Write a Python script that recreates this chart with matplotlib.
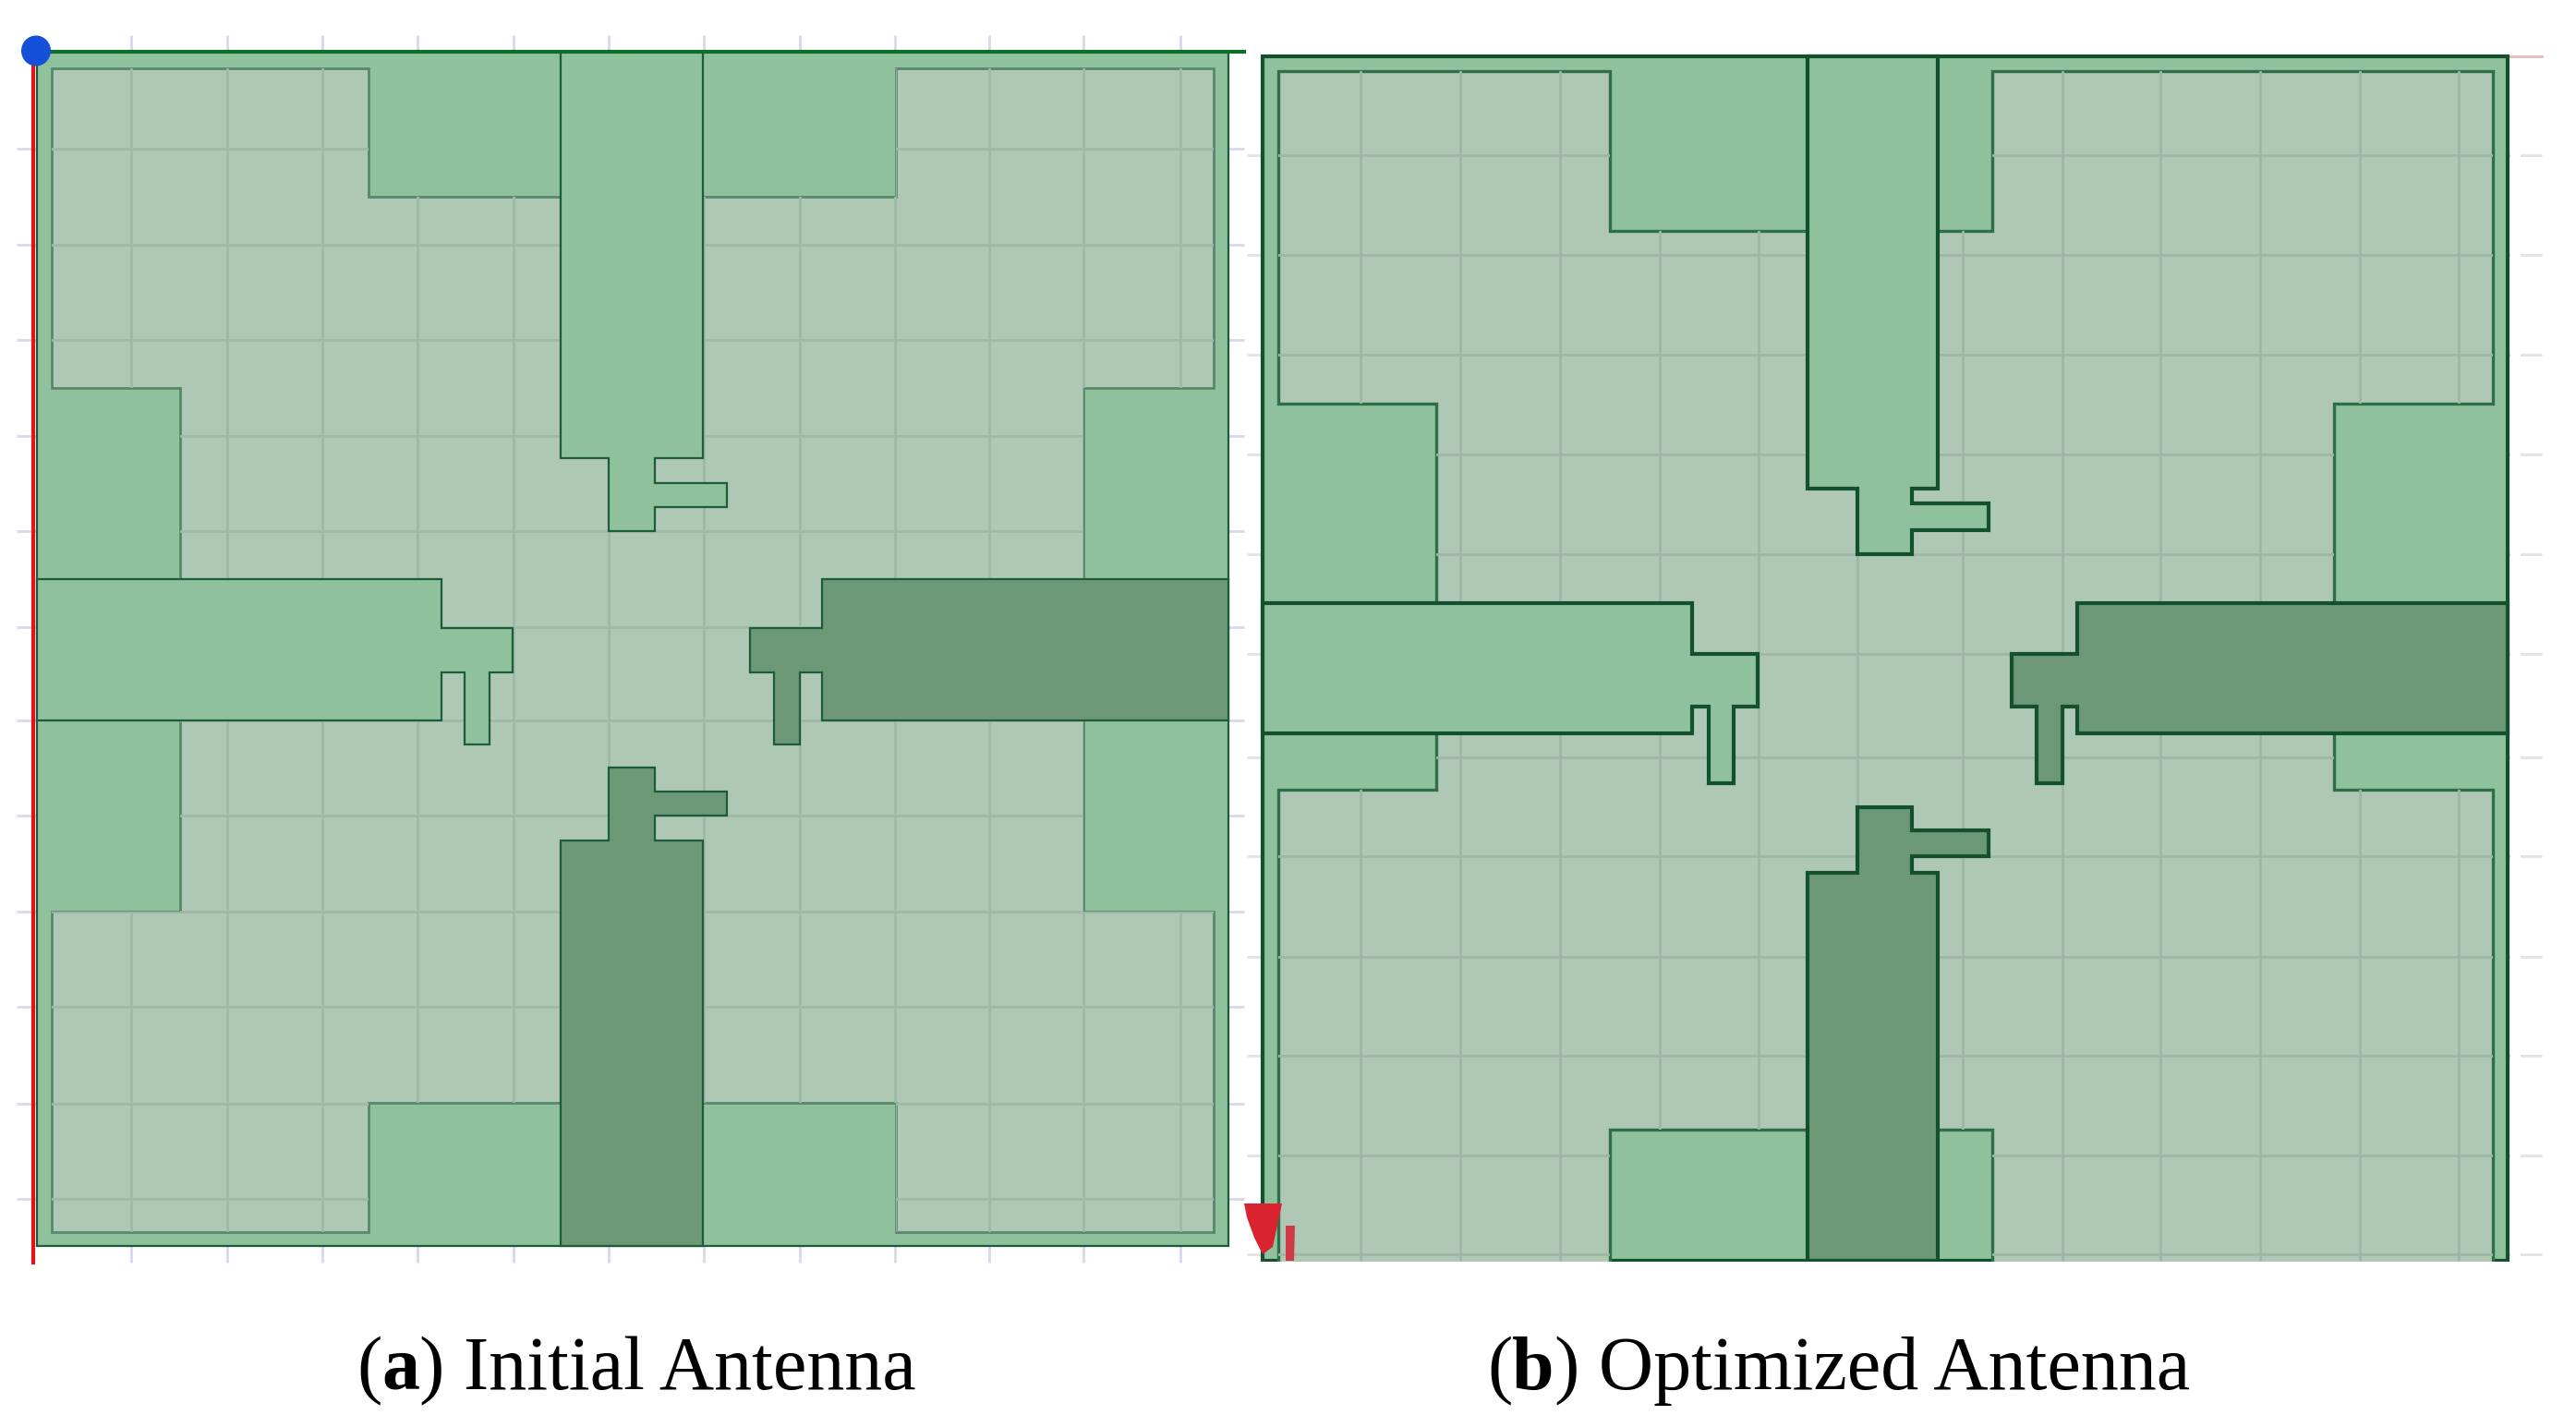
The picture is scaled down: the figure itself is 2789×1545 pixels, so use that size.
import matplotlib
matplotlib.use('Agg')
import matplotlib.pyplot as plt
from matplotlib.patches import Polygon, Rectangle, Ellipse

# geometry, in image pixels
# ---- panel a
a_outer = [(40, 56), (1330, 56), (1330, 1349), (40, 1349)]
a_light = [(56, 74), (399, 74), (399, 213), (970, 213), (970, 74), (1314, 74), (1314, 420),
           (1173, 420), (1173, 987), (1314, 987), (1314, 1334), (970, 1334), (970, 1194),
           (399, 1194), (399, 1334), (56, 1334), (56, 987), (195, 987), (195, 420), (56, 420)]
a_feed_top = [(607, 56), (761, 56), (761, 496), (709, 496), (709, 523), (787, 523), (787, 549),
              (709, 549), (709, 575), (659, 575), (659, 496), (607, 496)]
a_feed_bottom = [(607, 1349), (761, 1349), (761, 910), (709, 910), (709, 883), (787, 883),
                 (787, 857), (709, 857), (709, 831), (659, 831), (659, 910), (607, 910)]
a_feed_left = [(40, 627), (478, 627), (478, 680), (555, 680), (555, 728), (530, 728), (530, 806),
               (503, 806), (503, 728), (478, 728), (478, 780), (40, 780)]
a_feed_right = [(1330, 627), (890, 627), (890, 680), (812, 680), (812, 728), (838, 728), (838, 806),
                (866, 806), (866, 728), (890, 728), (890, 780), (1330, 780)]
a_grid_x = [142, 246, 349, 452, 556, 659, 762, 866, 969, 1071, 1173, 1278]
a_grid_y = [161, 265, 368, 472, 575, 679, 780, 883, 987, 1090, 1195, 1298]

# ---- panel b
b_outer = [(1367, 61), (2715, 61), (2715, 1365), (1367, 1365)]
b_light = [(1384, 77), (1743, 77), (1743, 250), (2157, 250), (2157, 77), (2699, 77), (2699, 437),
           (2527, 437), (2527, 855), (2699, 855), (2699, 1385), (2157, 1385), (2157, 1223),
           (1743, 1223), (1743, 1385), (1384, 1385), (1384, 855), (1555, 855), (1555, 437), (1384, 437)]
b_feed_top = [(1957, 61), (2098, 61), (2098, 529), (2070, 529), (2070, 545), (2153, 545), (2153, 574),
              (2070, 574), (2070, 600), (2011, 600), (2011, 529), (1957, 529)]
b_feed_bottom = [(1957, 1365), (2098, 1365), (2098, 945), (2070, 945), (2070, 927), (2153, 927),
                 (2153, 899), (2070, 899), (2070, 874), (2011, 874), (2011, 945), (1957, 945)]
b_feed_left = [(1367, 653), (1832, 653), (1832, 708), (1903, 708), (1903, 765), (1877, 765), (1877, 848),
               (1850, 848), (1850, 765), (1832, 765), (1832, 794), (1367, 794)]
b_feed_right = [(2715, 653), (2249, 653), (2249, 708), (2178, 708), (2178, 765), (2205, 765), (2205, 848),
                (2233, 848), (2233, 765), (2249, 765), (2249, 794), (2715, 794)]
b_grid_x = [1473, 1581, 1689, 1797, 1904, 2011, 2125, 2233, 2339, 2447, 2555, 2662]
b_grid_y = [168, 276, 384, 492, 600, 708, 820, 927, 1036, 1143, 1251, 1358]
b_marker = [(1347, 1303), (1388, 1303), (1378, 1350), (1367, 1358), (1358, 1340), (1350, 1318)]
b_marker2 = [(1392, 1327), (1402, 1327), (1401, 1365), (1392, 1365)]

caption_a = [('(', 'normal'), ('a', 'bold'), (') Initial Antenna', 'normal')]
caption_b = [('(', 'normal'), ('b', 'bold'), (') Optimized Antenna', 'normal')]

metal = '#8fc19d'
sub = '#aec8b5'
port = '#6d9878'

fig = plt.figure(figsize=(27.89, 15.45), dpi=100)
ax = fig.add_axes([0, 0, 1, 1])
ax.set_xlim(0, 2789)
ax.set_ylim(1545, 0)
ax.axis('off')


def panel(outer, light, feeds, grid_x, grid_y, tick_box, tick_col, grid_col, edge, light_edge, lw, light_lw):
    # ticks stick out of the board, grid only shows on the bare substrate
    ax.vlines(grid_x, tick_box[1], tick_box[3], color=tick_col, lw=2, zorder=1)
    ax.hlines(grid_y, tick_box[0], tick_box[2], color=tick_col, lw=2, zorder=1)
    ax.add_patch(Polygon(outer, fc=metal, ec=edge, lw=lw, zorder=2))
    lp = Polygon(light, fc=sub, ec=light_edge, lw=light_lw, zorder=3)
    ax.add_patch(lp)
    for col in [ax.vlines(grid_x, tick_box[1], tick_box[3], color=grid_col, lw=2, zorder=4),
                ax.hlines(grid_y, tick_box[0], tick_box[2], color=grid_col, lw=2, zorder=4)]:
        col.set_clip_path(lp)
    for pts, fc in feeds:
        ax.add_patch(Polygon(pts, fc=fc, ec=edge, lw=lw, zorder=5))


panel(a_outer, a_light,
      [(a_feed_top, metal), (a_feed_left, metal), (a_feed_bottom, port), (a_feed_right, port)],
      a_grid_x, a_grid_y, (18, 38, 1347, 1367), '#d8d8ec', '#9fb9a9', '#1d5c38', '#56896a', 1.6, 2.0)
ax.plot([36, 36], [56, 1367], color='#e6121a', lw=3, zorder=7)
ax.plot([37, 1347], [56, 56], color='#0c6f2a', lw=3, zorder=7)
ax.add_patch(Ellipse((39, 55), 32, 33, fc='#1450d8', ec='none', zorder=8))

panel(b_outer, b_light,
      [(b_feed_top, metal), (b_feed_left, metal), (b_feed_bottom, port), (b_feed_right, port)],
      b_grid_x, b_grid_y, (1350, 61, 2752, 1365), '#e2e2e2', '#9fb5a8', '#12502e', '#2f6e48', 3.0, 2.4)
# bottom of the screenshot is cut off, right ticks start away from the board
ax.add_patch(Rectangle((1345, 1366), 1420, 30, fc='white', ec='none', zorder=6))
ax.add_patch(Rectangle((2718, 100), 11, 1280, fc='white', ec='none', zorder=1.5))
ax.plot([2717, 2752], [61, 61], color='#e8b9bd', lw=2, zorder=1)
ax.add_patch(Polygon(b_marker, fc='#d9232e', ec='none', zorder=8))
ax.add_patch(Polygon(b_marker2, fc='#cf3a44', ec='none', zorder=8))


def caption(parts, x, y):
    fig.canvas.draw()
    r = fig.canvas.get_renderer()
    for s, w in parts:
        t = ax.text(x, y, s, family='Liberation Serif', fontsize=59, weight=w, ha='left', va='baseline',
                    color='black', zorder=10)
        x = ax.transData.inverted().transform((t.get_window_extent(r).x1, 0))[0]


caption(caption_a, 386, 1504)
caption(caption_b, 1610, 1504)

fig.savefig('out.png', dpi=100)
